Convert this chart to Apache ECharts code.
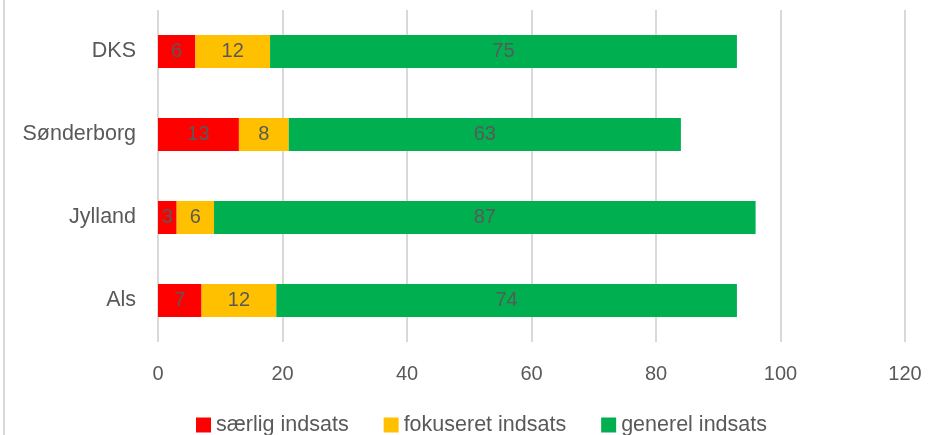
<!DOCTYPE html>
<html><head><meta charset="utf-8">
<script src="https://cdn.jsdelivr.net/npm/echarts@6/dist/echarts.min.js"></script>
<style>html,body{margin:0;padding:0;background:#fff}#c{width:934px;height:435px}</style>
</head><body><div id="c"></div>
<script>
const categories = ['Als', 'Jylland', 'Sønderborg', 'DKS'];
const saerlig = [7, 3, 13, 6];
const fokuseret = [12, 6, 8, 12];
const generel = [74, 87, 63, 75];
const xTicks = [0, 20, 40, 60, 80, 100, 120];

const font = 'Liberation Sans';
const txt = '#595959';
const chart = echarts.init(document.getElementById('c'));
function mk(name, data, color) {
  return {
    name, type: 'bar', stack: 's', data, barWidth: 33,
    itemStyle: { color },
    label: { show: true, position: 'inside', color: txt, fontFamily: font, fontSize: 20 },
    emphasis: { disabled: true }
  };
}
chart.setOption({
  animation: false,
  graphic: [{ type: 'rect', shape: { x: 3, y: 0, width: 2, height: 435 }, style: { fill: '#d9d9d9' } }],
  grid: { left: 158, right: 29, top: 10, bottom: 93 },
  xAxis: {
    type: 'value', min: xTicks[0], max: xTicks[xTicks.length - 1], interval: 20,
    axisLine: { show: false }, axisTick: { show: false },
    splitLine: { show: true, lineStyle: { color: '#d9d9d9', width: 2 } },
    axisLabel: { color: txt, fontFamily: font, fontSize: 20, margin: 22 }
  },
  yAxis: {
    type: 'category', data: categories,
    axisLine: { show: false }, axisTick: { show: false },
    axisLabel: { color: txt, fontFamily: font, fontSize: 21.5, margin: 22 }
  },
  legend: {
    top: 414, left: 196, padding: 0, itemWidth: 15, itemHeight: 15, itemGap: 35,
    icon: 'rect',
    textStyle: { color: txt, fontFamily: font, fontSize: 21.5 },
    data: ['særlig indsats', 'fokuseret indsats', 'generel indsats']
  },
  series: [
    mk('særlig indsats', saerlig, '#FF0000'),
    mk('fokuseret indsats', fokuseret, '#FFC000'),
    mk('generel indsats', generel, '#00B050')
  ]
});
</script></body></html>
